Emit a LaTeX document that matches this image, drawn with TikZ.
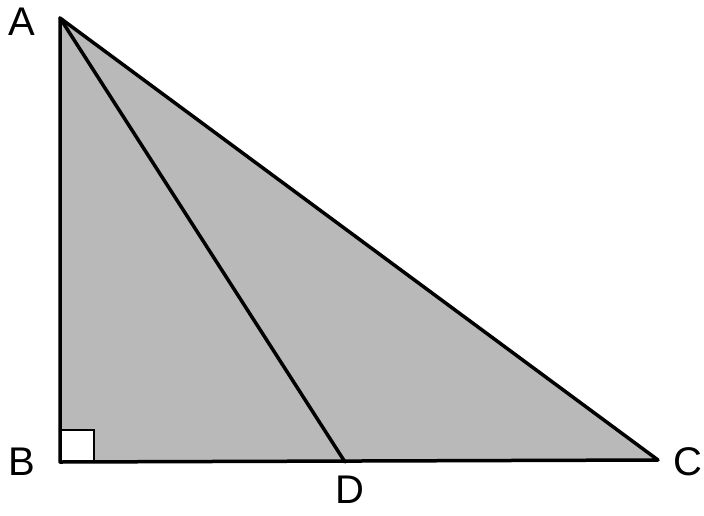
\documentclass[tikz,border=0pt]{standalone}
\usepackage{fontspec}
\setmainfont{Liberation Sans}
\begin{document}
\begin{tikzpicture}[x=1pt,y=-1pt,
  edge/.style={line width=3.5pt,line join=round,line cap=round},
  lbl/.style={font=\fontsize{40}{40}\selectfont,inner sep=0pt}]
\useasboundingbox (0,0) rectangle (704,515);
\coordinate (A) at (60,18);
\coordinate (B) at (60,462);
\coordinate (C) at (658,460);
\coordinate (D) at (345,462);
\fill[gray!55] (A) -- (B) -- (C) -- cycle;
\fill[white] (62,430) rectangle (94,460);
\draw[line width=2.5pt] (62,430) -- (94,430) -- (94,460);
\draw[edge] (A) -- (B) -- (C) -- cycle;
\draw[edge] (A) -- (D);
\node[lbl] (lA) at (22,22) {A};
\node[lbl] (lB) at (22,462) {B};
\node[lbl] (lC) at (688,462) {C};
\node[lbl] (lD) at (350,490) {D};
\end{tikzpicture}
\end{document}
